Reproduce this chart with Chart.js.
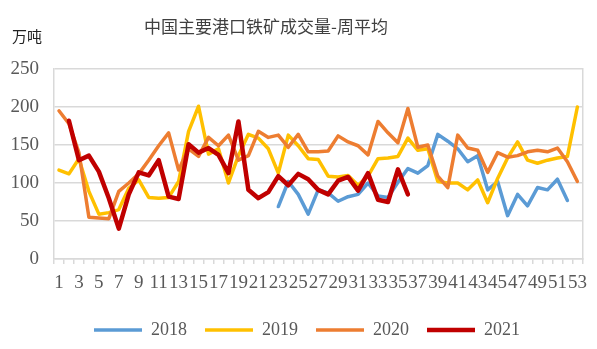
<!DOCTYPE html>
<html>
<head>
<meta charset="utf-8">
<script src="https://cdn.jsdelivr.net/npm/chart.js@4.4.1/dist/chart.umd.min.js"></script>
<style>
  html, body { margin: 0; padding: 0; background: #fff; }
  #wrap { width: 597px; height: 349px; position: relative; }
</style>
</head>
<body>
<div id="wrap"><canvas id="volChart"></canvas></div>
<script>
// weekly average iron ore turnover at major Chinese ports, 10k tonnes
const titleText = "中国主要港口铁矿成交量-周平均";
const unitText = "万吨";

const weeks = [];
for (let w = 1; w <= 53; w++) weeks.push(String(w));

const yTicks = [0, 50, 100, 150, 200, 250];

const vol2018 = [
  null, null, null, null, null, null, null, null, null, null,
  null, null, null, null, null, null, null, null, null, null,
  null, null, 69, 102, 85, 59, 91, 87, 76, 82,
  85, 100, 83, 81, 101, 119, 113, 123, 164, 155,
  145, 128, 136, 91, 102, 57, 85, 70, 94, 91,
  105, 77, null
];
const vol2019 = [
  117, 112, 132, 89, 59, 61, 65, 93, 104, 81,
  80, 81, 102, 168, 201, 138, 145, 100, 136, 164,
  159, 145, 113, 163, 149, 132, 131, 109, 108, 110,
  97, 109, 132, 133, 135, 159, 143, 145, 102, 100,
  100, 91, 104, 74, 106, 133, 154, 130, 126, 130,
  133, 135, 200
];
const vol2020 = [
  195, 178, 140, 55, 54, 53, 89, 100, 112, 130,
  149, 166, 117, 145, 135, 160, 149, 163, 130, 136,
  168, 160, 163, 147, 164, 141, 141, 142, 162, 154,
  149, 137, 181, 166, 153, 198, 147, 150, 109, 94,
  163, 146, 143, 114, 140, 134, 136, 141, 143, 141,
  146, 128, 102
];
const vol2021 = [
  null, 182, 130, 136, 115, 80, 40, 85, 114, 110,
  130, 82, 79, 151, 140, 146, 137, 113, 181, 91,
  80, 88, 109, 97, 112, 105, 91, 85, 103, 108,
  90, 113, 78, 75, 118, 85
];

const serif = "'Liberation Serif', 'Times New Roman', serif";
const gridGray = "#d9d9d9";
const tickGray = "#595959";

function line(label, data, color, width, order) {
  return {
    label: label,
    data: data,
    borderColor: color,
    backgroundColor: color,
    borderWidth: width,
    pointRadius: 0,
    pointHoverRadius: 0,
    tension: 0,
    spanGaps: false,
    borderJoinStyle: "round",
    borderCapStyle: "round",
    order: order
  };
}

// title and unit caption above the plot
const captions = {
  id: "captions",
  afterDraw(chart) {
    const ctx = chart.ctx;
    ctx.save();
    ctx.fillStyle = "#404040";
    ctx.textBaseline = "middle";
    ctx.font = "17px 'Noto Sans CJK SC'";
    ctx.textAlign = "center";
    ctx.fillText(titleText, 266, 27);
    ctx.fillStyle = "#222";
    ctx.font = "15px 'Noto Sans CJK SC'";
    ctx.textAlign = "left";
    ctx.fillText(unitText, 12, 36);
    ctx.restore();
  }
};

// nudge the legend row a little to the right of the canvas centre
const legendShift = {
  id: "legendShift",
  afterLayout(chart) {
    if (chart.legend) chart.legend.left += 30;
  }
};

const ctx = document.getElementById("volChart").getContext("2d");

new Chart(ctx, {
  type: "line",
  data: {
    labels: weeks,
    datasets: [
      line("2018", vol2018, "#5B9BD5", 3.5, 3),
      line("2019", vol2019, "#FFC000", 3.5, 2),
      line("2020", vol2020, "#ED7D31", 3.5, 1),
      line("2021", vol2021, "#C00000", 4.5, 0)
    ]
  },
  options: {
    responsive: true,
    maintainAspectRatio: false,
    animation: false,
    layout: { padding: { top: 69, left: 0, right: 13, bottom: 0 } },
    plugins: {
      tooltip: { enabled: false },
      title: { display: false },
      legend: {
        position: "bottom",
        labels: {
          usePointStyle: true,
          pointStyle: "line",
          pointStyleWidth: 48,
          padding: 18,
          color: tickGray,
          font: { family: serif, size: 18 },
          sort: (a, b) => a.datasetIndex - b.datasetIndex
        }
      }
    },
    scales: {
      x: {
        offset: true,
        grid: {
          offset: true,
          drawOnChartArea: false,
          drawTicks: true,
          tickLength: 5,
          color: gridGray,
          lineWidth: 1.5
        },
        border: { color: gridGray, width: 1.5 },
        ticks: {
          autoSkip: false,
          maxRotation: 0,
          minRotation: 0,
          padding: 10,
          color: tickGray,
          font: { family: serif, size: 19, lineHeight: 1 },
          callback: (v, i) => (i % 2 === 0 ? weeks[i] : "")
        }
      },
      y: {
        min: yTicks[0],
        max: yTicks[yTicks.length - 1],
        afterBuildTicks(scale) {
          scale.ticks = yTicks.map(v => ({ value: v }));
        },
        afterFit(scale) { scale.width = 54; },
        grid: { color: gridGray, lineWidth: 1.5, drawTicks: false },
        border: { display: true, color: gridGray, width: 1.5 },
        ticks: {
          padding: 15,
          color: tickGray,
          font: { family: serif, size: 19 }
        }
      },
      yRight: {
        position: "right",
        min: 0,
        max: 250,
        afterFit(scale) { scale.width = 0; },
        grid: { drawOnChartArea: false, drawTicks: false },
        border: { display: true, color: gridGray, width: 1.5 },
        ticks: { display: false }
      }
    }
  },
  plugins: [captions, legendShift]
});
</script>
</body>
</html>
